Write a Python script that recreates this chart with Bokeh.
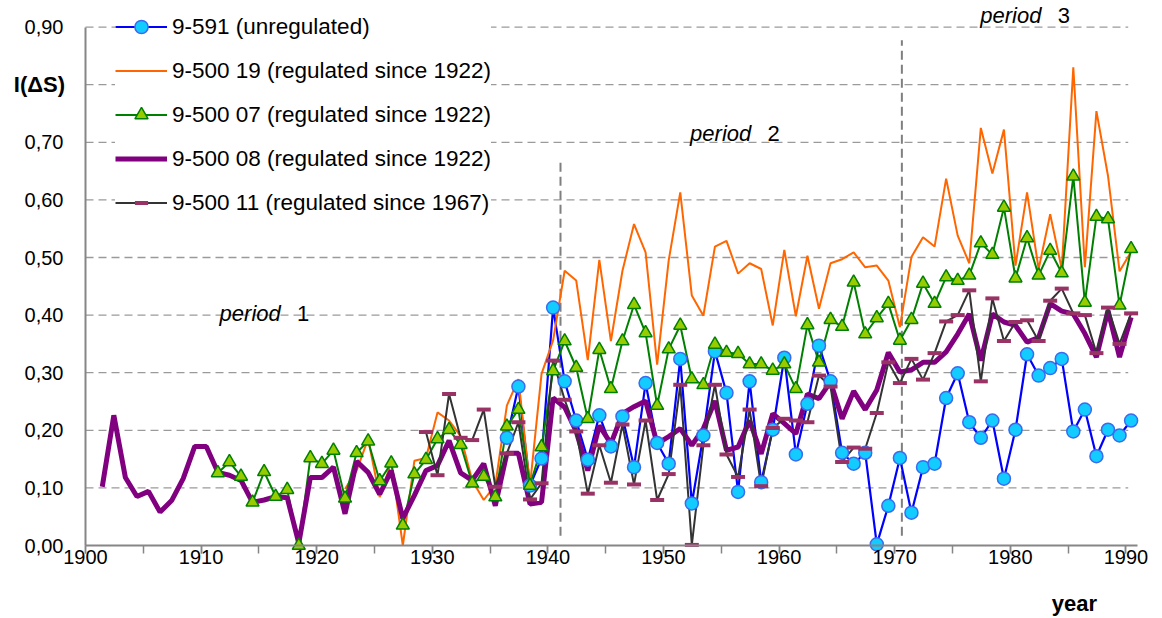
import numpy as np
from bokeh.plotting import figure
from bokeh.models import (Range1d, FixedTicker, SingleIntervalTicker, CustomJSTickFormatter,
                          Legend, LegendItem, Label)
from bokeh.embed import file_html
from bokeh.resources import INLINE

# ---------------- data ----------------
YEARS_0908 = list(range(1901, 1991))   # 9-500 08
VAL_0908 = [0.102, 0.226, 0.118, 0.085, 0.094, 0.058, 0.078, 0.116, 0.172, 0.172,
            0.127, 0.122, 0.113, 0.075, 0.079, 0.085, 0.083, 0.004, 0.118, 0.118,
            0.136, 0.055, 0.146, 0.127, 0.089, 0.130, 0.047, 0.087, 0.130, 0.139,
            0.182, 0.126, 0.113, 0.142, 0.069, 0.160, 0.160, 0.072, 0.075, 0.256,
            0.240, 0.198, 0.130, 0.208, 0.177, 0.229, 0.241, 0.251, 0.177, 0.189,
            0.203, 0.174, 0.203, 0.251, 0.165, 0.171, 0.217, 0.159, 0.229, 0.212,
            0.194, 0.263, 0.255, 0.284, 0.220, 0.268, 0.236, 0.270, 0.335, 0.301,
            0.305, 0.318, 0.318, 0.336, 0.367, 0.402, 0.321, 0.402, 0.388, 0.382,
            0.353, 0.361, 0.420, 0.407, 0.402, 0.368, 0.327, 0.408, 0.327, 0.396]

YEARS_0907 = list(range(1911, 1991))   # 9-500 07
VAL_0907 = [0.126, 0.145, 0.120, 0.075, 0.128, 0.085, 0.097, 0.000, 0.152, 0.142,
            0.165, 0.082, 0.161, 0.181, 0.112, 0.143, 0.035, 0.124, 0.149, 0.185,
            0.201, 0.175, 0.108, 0.120, 0.084, 0.207, 0.236, 0.104, 0.171, 0.303,
            0.355, 0.309, 0.220, 0.340, 0.272, 0.355, 0.418, 0.369, 0.243, 0.341,
            0.382, 0.289, 0.279, 0.349, 0.335, 0.333, 0.315, 0.315, 0.304, 0.315,
            0.272, 0.383, 0.318, 0.392, 0.380, 0.457, 0.367, 0.395, 0.420, 0.356,
            0.392, 0.455, 0.420, 0.466, 0.460, 0.469, 0.525, 0.505, 0.587, 0.464,
            0.534, 0.469, 0.512, 0.473, 0.641, 0.422, 0.571, 0.567, 0.417, 0.515]

YEARS_0919 = list(range(1922, 1991))   # 9-500 19
VAL_0919 = [0.098, 0.130, 0.185, 0.084, 0.145, 0.000, 0.147, 0.152, 0.231,
            0.217, 0.190, 0.113, 0.079, 0.105, 0.243, 0.289, 0.104, 0.298, 0.356,
            0.477, 0.460, 0.322, 0.496, 0.355, 0.477, 0.558, 0.509, 0.314, 0.495,
            0.613, 0.434, 0.399, 0.519, 0.529, 0.472, 0.490, 0.480, 0.382, 0.513,
            0.398, 0.503, 0.411, 0.490, 0.497, 0.509, 0.483, 0.486, 0.460, 0.379,
            0.501, 0.535, 0.519, 0.637, 0.538, 0.490, 0.725, 0.646, 0.722, 0.486,
            0.613, 0.480, 0.575, 0.480, 0.830, 0.483, 0.754, 0.642, 0.476, 0.510]

YEARS_591 = list(range(1936, 1991))    # 9-591
VAL_591 = [0.187, 0.276, 0.104, 0.151, 0.413,
           0.285, 0.217, 0.149, 0.226, 0.172, 0.224, 0.136, 0.282, 0.178, 0.142,
           0.324, 0.073, 0.191, 0.337, 0.265, 0.093, 0.285, 0.110, 0.201, 0.326,
           0.158, 0.246, 0.347, 0.285, 0.161, 0.142, 0.161, 0.002, 0.069, 0.152,
           0.057, 0.136, 0.142, 0.256, 0.299, 0.214, 0.187, 0.217, 0.116, 0.201,
           0.332, 0.295, 0.308, 0.324, 0.198, 0.236, 0.155, 0.201, 0.191, 0.217]

YEARS_0911 = list(range(1929, 1991))   # 9-500 11
VAL_0911 = [0.197, 0.122,
            0.263, 0.187, 0.183, 0.236, 0.102, 0.160, 0.214, 0.080, 0.108, 0.321,
            0.253, 0.198, 0.090, 0.174, 0.109, 0.210, 0.106, 0.217, 0.079, 0.124,
            0.279, 0.001, 0.174, 0.279, 0.158, 0.119, 0.236, 0.103, 0.204, 0.220,
            0.217, 0.214, 0.295, 0.276, 0.145, 0.170, 0.168, 0.230, 0.318, 0.282,
            0.324, 0.288, 0.334, 0.389, 0.400, 0.443, 0.285, 0.429, 0.355, 0.388,
            0.391, 0.355, 0.425, 0.446, 0.403, 0.400, 0.334, 0.413, 0.350, 0.403]

LABELS = ["9-591 (unregulated)",
          "9-500 19 (regulated since 1922)",
          "9-500 07 (regulated since 1922)",
          "9-500 08 (regulated since 1922)",
          "9-500 11 (regulated since 1967)"]

Y_TICKS = [0.0, 0.1, 0.2, 0.3, 0.4, 0.5, 0.6, 0.7, 0.8, 0.9]
Y_TICK_UNLABELLED = 0.8          # its place is taken by the axis title
X_AXIS_BOUNDS = (1900, 1991)
Y_AXIS_BOUNDS = (0, 0.9)
GRID_END = 1990.2
PERIOD_BOUNDS = [1941.09, 1970.62]
PERIOD_TOPS = [0.666, 0.877]
PERIOD_BOTTOM = 0.017

# points sit in the middle of each year slot
X_SHIFT = 0.45
FONT = "Liberation Sans"


def xs(years):
    return np.array(years, dtype=float) + X_SHIFT


W, H = 1160, 616
PX_PER_YEAR = 11.56
PX_PER_UNIT = 576.0
X0 = 1900 - 85 / PX_PER_YEAR
Y_TOP = 545 / PX_PER_UNIT

p = figure(width=W, height=H,
           x_range=Range1d(X0, X0 + W / PX_PER_YEAR),
           y_range=Range1d(Y_TOP - H / PX_PER_UNIT, Y_TOP),
           output_backend="svg", toolbar_location=None,
           min_border_left=0, min_border_right=0, min_border_top=0, min_border_bottom=0)
p.outline_line_color = None
p.background_fill_color = "white"
p.border_fill_color = "white"

# axes (drawn at the data origin)
p.xaxis.ticker = SingleIntervalTicker(interval=10, num_minor_ticks=2)
p.yaxis.ticker = FixedTicker(ticks=Y_TICKS)
p.yaxis.formatter = CustomJSTickFormatter(
    args=dict(skip=Y_TICK_UNLABELLED),
    code="if (Math.abs(tick - skip) < 1e-9) { return ''; } return tick.toFixed(2).replace('.', ',');")
p.xaxis.fixed_location = 0
p.yaxis.fixed_location = 1900
p.xaxis.bounds = X_AXIS_BOUNDS
p.yaxis.bounds = Y_AXIS_BOUNDS
for ax in (p.xaxis[0], p.yaxis[0]):
    ax.axis_line_color = "#868686"
    ax.axis_line_width = 2
    ax.major_tick_line_color = "#868686"
    ax.minor_tick_line_color = "#868686"
    ax.major_tick_line_width = 1.5
    ax.minor_tick_line_width = 1.5
    ax.major_label_text_font = FONT
    ax.major_label_text_font_size = "20px"
    ax.major_label_text_color = "black"
p.xaxis.major_tick_out = 8
p.xaxis.major_tick_in = 0
p.xaxis.minor_tick_out = 8
p.xaxis.minor_tick_in = 0
p.xaxis.major_label_standoff = -4
p.yaxis.major_tick_out = 0
p.yaxis.major_tick_in = 0
p.yaxis.minor_tick_out = 0
p.yaxis.minor_tick_in = 0
p.yaxis.major_label_standoff = 22

p.xgrid.visible = False
p.ygrid.visible = False

# horizontal grid lines at the y ticks
grid_y = Y_TICKS[1:]
p.segment(x0=[X_AXIS_BOUNDS[0]] * len(grid_y), x1=[GRID_END] * len(grid_y), y0=grid_y, y1=grid_y,
          line_color="#9a9a9a", line_width=1.3, line_dash="8 5")

# period boundaries
p.segment(x0=PERIOD_BOUNDS, x1=PERIOD_BOUNDS, y0=[PERIOD_BOTTOM] * 2, y1=PERIOD_TOPS,
          line_color="#7f7f7f", line_width=2, line_dash="9 5")

# lines
l591 = p.line(xs(YEARS_591), VAL_591, line_color="#0000FF", line_width=2.2)
l19 = p.line(xs(YEARS_0919), VAL_0919, line_color="#FF6600", line_width=2)
l07 = p.line(xs(YEARS_0907), VAL_0907, line_color="#008000", line_width=2)
l08 = p.line(xs(YEARS_0908), VAL_0908, line_color="#800080", line_width=5)
l11 = p.line(xs(YEARS_0911), VAL_0911, line_color="#333333", line_width=2)

# markers
m591 = p.scatter(xs(YEARS_591), VAL_591, marker="circle", size=13,
                 fill_color="#12CBFF", line_color="#3A6BF0", line_width=1.5)
m07 = p.scatter(xs(YEARS_0907), VAL_0907, marker="triangle", size=13,
                fill_color="#99CC00", line_color="#008000", line_width=1.5)
m11 = p.scatter(xs(YEARS_0911), VAL_0911, marker="dash", size=14,
                line_color="#993366", line_width=4)

legend = Legend(items=[
    LegendItem(label=LABELS[0], renderers=[l591, m591]),
    LegendItem(label=LABELS[1], renderers=[l19]),
    LegendItem(label=LABELS[2], renderers=[l07, m07]),
    LegendItem(label=LABELS[3], renderers=[l08]),
    LegendItem(label=LABELS[4], renderers=[l11, m11]),
], location=(115, 397))
legend.label_text_font = FONT
legend.label_text_font_size = "22.5px"
legend.label_text_color = "black"
legend.glyph_width = 52
legend.glyph_height = 33
legend.label_height = 33
legend.spacing = 11
legend.padding = 12
legend.margin = 0
legend.label_standoff = 5
legend.border_line_color = None
legend.background_fill_color = "white"
legend.background_fill_alpha = 1.0
p.add_layout(legend)

# texts
p.add_layout(Label(x=1893.8, y=0.8, text="I(ΔS)", text_font=FONT, text_font_size="22px",
                   text_font_style="bold", text_color="black",
                   text_align="left", text_baseline="middle"))
p.add_layout(Label(x=1987.5, y=-0.1, text="year", text_font=FONT, text_font_size="22px",
                   text_font_style="bold", text_color="black",
                   text_align="right", text_baseline="middle"))

PERIOD_TEXT = [(1911.6, 1918.3, 0.402, "1"), (1952.3, 1959.0, 0.716, "2"), (1977.4, 1984.1, 0.920, "3")]
for xw, xn, yb, num in PERIOD_TEXT:
    p.add_layout(Label(x=xw, y=yb, text="period", text_font=FONT, text_font_size="22px",
                       text_font_style="italic", text_color="black",
                       text_align="left", text_baseline="alphabetic"))
    p.add_layout(Label(x=xn, y=yb, text=num, text_font=FONT, text_font_size="22px",
                       text_color="black", text_align="left", text_baseline="alphabetic"))

open("out.html", "w").write(file_html(p, INLINE))
